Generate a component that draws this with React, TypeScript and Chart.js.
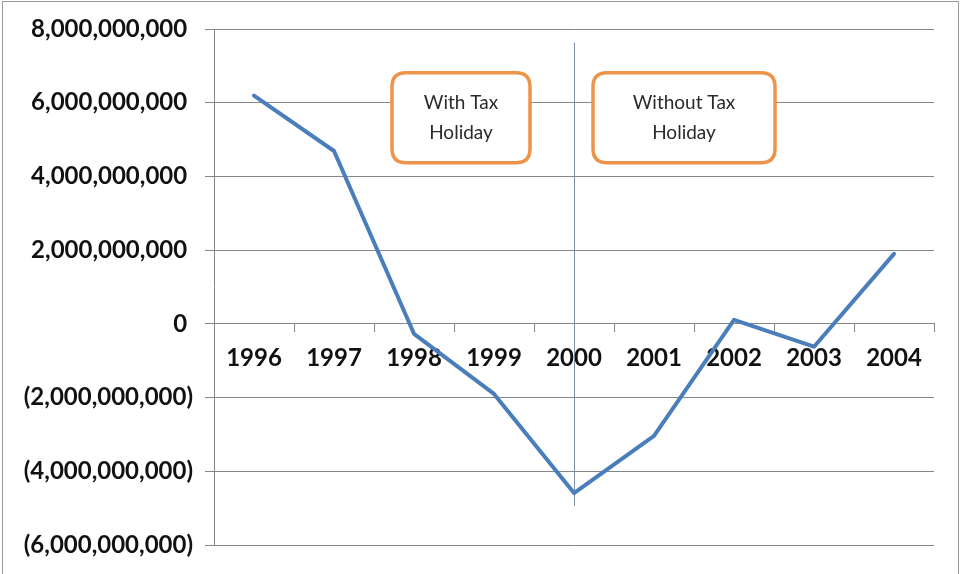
import React, { useEffect, useRef } from "react";
import { Chart, registerables } from "chart.js";

Chart.register(...registerables);

const years = ["1996", "1997", "1998", "1999", "2000", "2001", "2002", "2003", "2004"];
const values = [6.19e9, 4.69e9, -0.27e9, -1.9e9, -4.59e9, -3.04e9, 0.11e9, -0.62e9, 1.9e9];
const yMin = -6e9;
const yMax = 8e9;
const yStep = 2e9;

// Annotations in data units (category index, value)
const boxes = [
  { lines: ["With Tax", "Holiday"], x0: 1.725, x1: 3.45, y0: 6.81e9, y1: 4.37e9 },
  { lines: ["Without Tax", "Holiday"], x0: 4.2375, x1: 6.5125, y0: 6.81e9, y1: 4.37e9 },
];
const divider = { x: 4, yTop: 7.63e9, yBottom: -4.94e9 };

const fmt = (v: number) => {
  const s = Math.abs(v).toLocaleString("en-US");
  if (v < 0) return "(" + s + ")";
  return s + " ";
};

function roundRect(ctx: CanvasRenderingContext2D, x: number, y: number, w: number, h: number, r: number) {
  ctx.beginPath();
  ctx.moveTo(x + r, y);
  ctx.lineTo(x + w - r, y);
  ctx.quadraticCurveTo(x + w, y, x + w, y + r);
  ctx.lineTo(x + w, y + h - r);
  ctx.quadraticCurveTo(x + w, y + h, x + w - r, y + h);
  ctx.lineTo(x + r, y + h);
  ctx.quadraticCurveTo(x, y + h, x, y + h - r);
  ctx.lineTo(x, y + r);
  ctx.quadraticCurveTo(x, y, x + r, y);
  ctx.closePath();
}

const annotPlugin = {
  id: "annot",
  beforeDatasetsDraw(chart: any) {
    const { ctx, scales } = chart;
    const xs = scales.x;
    const ys = scales.y;
    const px = Math.round(xs.getPixelForValue(divider.x)) + 0.5;
    ctx.save();
    ctx.strokeStyle = "#7d8ea6";
    ctx.lineWidth = 1;
    ctx.beginPath();
    ctx.moveTo(px, ys.getPixelForValue(divider.yTop));
    ctx.lineTo(px, ys.getPixelForValue(divider.yBottom));
    ctx.stroke();
    ctx.restore();
  },
  afterDatasetsDraw(chart: any) {
    const { ctx, scales } = chart;
    const xs = scales.x;
    const ys = scales.y;
    ctx.save();
    for (const b of boxes) {
      const l = xs.getPixelForValue(b.x0);
      const r = xs.getPixelForValue(b.x1);
      const t = ys.getPixelForValue(b.y0);
      const bt = ys.getPixelForValue(b.y1);
      roundRect(ctx, l, t, r - l, bt - t, 14);
      ctx.fillStyle = "#ffffff";
      ctx.fill();
      ctx.lineWidth = 3.5;
      ctx.strokeStyle = "#EE944A";
      ctx.stroke();
      ctx.fillStyle = "#2a2a2a";
      ctx.font = "19px Lato, 'Open Sans', sans-serif";
      ctx.textAlign = "center";
      ctx.textBaseline = "middle";
      const cx = (l + r) / 2;
      const cy = (t + bt) / 2;
      const lh = 30;
      b.lines.forEach((line, i) => {
        ctx.fillText(line, cx, cy + (i - (b.lines.length - 1) / 2) * lh);
      });
    }
    ctx.restore();
  },
};

export default function App() {
  const ref = useRef<HTMLCanvasElement | null>(null);
  useEffect(() => {
    if (!ref.current) return;
    const tickFont = { family: "Lato, 'Open Sans', sans-serif", size: 24, weight: "bold" as const };
    const chart = new Chart(ref.current, {
      type: "line",
      data: {
        labels: years,
        datasets: [
          {
            data: values,
            borderColor: "#4A7EBB",
            backgroundColor: "#4A7EBB",
            borderWidth: 4,
            pointRadius: 0,
            tension: 0,
            borderJoinStyle: "round",
            borderCapStyle: "round",
          },
        ],
      },
      options: {
        animation: false,
        responsive: false,
        maintainAspectRatio: false,
        layout: { padding: { left: 0, top: 29, right: 27, bottom: 29 } },
        plugins: { legend: { display: false }, tooltip: { enabled: false } },
        scales: {
          x: {
            type: "category",
            position: { y: 0 } as any,
            offset: true,
            grid: {
              display: true,
              drawOnChartArea: false,
              drawTicks: true,
              tickLength: 8,
              offset: true,
              color: "#868686",
            },
            border: { display: true, color: "#868686" },
            ticks: { color: "#111111", font: tickFont, padding: 12, maxRotation: 0, autoSkip: false },
          },
          y: {
            min: yMin,
            max: yMax,
            afterFit: (axis: any) => {
              axis.width = 214;
            },
            grid: { color: "#868686", lineWidth: 1, drawTicks: true, tickLength: 9 },
            border: { display: true, color: "#868686" },
            ticks: {
              stepSize: yStep,
              color: "#111111",
              font: tickFont,
              padding: 12,
              callback: (v: any) => fmt(Number(v)),
            },
          },
        },
      },
      plugins: [annotPlugin],
    });
    return () => chart.destroy();
  }, []);

  return (
    <div style={{ position: "absolute", left: 0, top: 0, width: 961, height: 574, overflow: "hidden", background: "#fff" }}>
      <canvas ref={ref} width={961} height={574} style={{ position: "absolute", left: 0, top: 0 }} />
      <div
        style={{
          position: "absolute",
          left: 2,
          top: 1,
          width: 955,
          height: 640,
          border: "1px solid #9a9a9a",
          pointerEvents: "none",
        }}
      />
    </div>
  );
}
